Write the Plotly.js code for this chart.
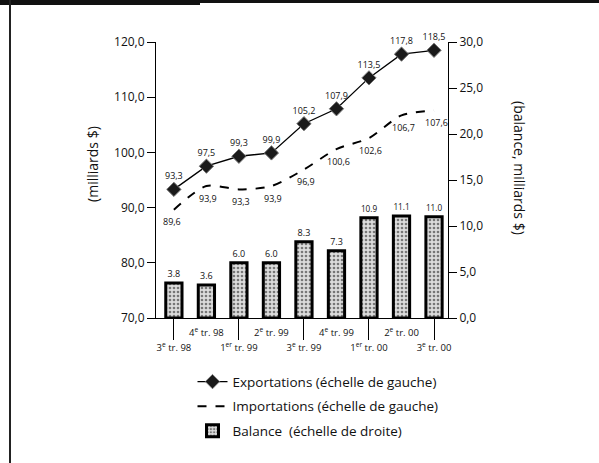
<!DOCTYPE html>
<html>
<head>
<meta charset="utf-8">
<script src="https://cdn.plot.ly/plotly-3.0.1.min.js"></script>
<style>
  html, body { margin: 0; padding: 0; background: #fff; }
  #wrap { position: relative; width: 599px; height: 463px; overflow: hidden; }
  #chart { position: absolute; left: 0; top: 0; width: 599px; height: 463px; }
  .frame-top { position: absolute; left: 0; top: 0; width: 599px; height: 3px; background: #111; }
  .frame-top2 { position: absolute; left: 0; top: 0; width: 200px; height: 5px; background: #111; }
  .frame-left { position: absolute; left: 9px; top: 0; width: 2px; height: 463px; background: #222; }
</style>
</head>
<body>
<div id="wrap">
  <div id="chart"></div>
  <div class="frame-top"></div>
  <div class="frame-top2"></div>
  <div class="frame-left"></div>
</div>
<script>
// ---- Data ----
const quarters = ["3T98", "4T98", "1T99", "2T99", "3T99", "4T99", "1T00", "2T00", "3T00"];
const quarterLabels = [
  "3<sup>e</sup> tr. 98", "4<sup>e</sup> tr. 98", "1<sup>er</sup> tr. 99",
  "2<sup>e</sup> tr. 99", "3<sup>e</sup> tr. 99", "4<sup>e</sup> tr. 99",
  "1<sup>er</sup> tr. 00", "2<sup>e</sup> tr. 00", "3<sup>e</sup> tr. 00"
];
const exportations = [93.3, 97.5, 99.3, 99.9, 105.2, 107.9, 113.5, 117.8, 118.5];
const importations = [89.6, 93.9, 93.3, 93.9, 96.9, 100.6, 102.6, 106.7, 107.6];
const balance = [3.8, 3.6, 6.0, 6.0, 8.3, 7.3, 10.9, 11.1, 11.0];

const FONT = "Open Sans, DejaVu Sans, sans-serif";
const comma = v => v.toFixed(1).replace(".", ",");

// two-row alternating tick labels: odd quarters on the upper row, even quarters on the lower row
const indices = quarters.map((q, i) => i);
const evenIdx = indices.filter(i => i % 2 === 0);
const oddIdx = indices.filter(i => i % 2 === 1);

const traces = [
  {
    type: "bar",
    name: "Balance  (échelle de droite)",
    x: quarters,
    y: balance,
    yaxis: "y2",
    width: 0.5,
    marker: {
      color: "#d0d0d0",
      line: { color: "#000", width: 3 },
      pattern: { shape: ".", fgcolor: "#777", bgcolor: "#dcdcdc", size: 4, solidity: 0.35 }
    },
    text: balance.map(v => v.toFixed(1)),
    textposition: "outside",
    textfont: { family: FONT, size: 9, color: "#111" },
    cliponaxis: false,
    legendrank: 3,
    legendgroup: "g3",
    hoverinfo: "skip"
  },
  {
    type: "scatter",
    mode: "lines+markers+text",
    name: "Exportations (échelle de gauche)",
    x: quarters,
    y: exportations,
    line: { color: "#000", width: 1.3 },
    marker: { symbol: "diamond", size: 11, color: "#1a1a1a", line: { color: "#777", width: 1 } },
    text: exportations.map(comma),
    textposition: "top center",
    textfont: { family: FONT, size: 9, color: "#111" },
    cliponaxis: false,
    legendrank: 1,
    legendgroup: "g1",
    hoverinfo: "skip"
  },
  {
    type: "scatter",
    mode: "lines",
    name: "Importations (échelle de gauche)",
    x: quarters,
    y: importations,
    line: { color: "#000", width: 2, dash: "dash", shape: "spline", smoothing: 0.8 },
    cliponaxis: false,
    legendrank: 2,
    legendgroup: "g2",
    hoverinfo: "skip"
  },
  {
    // invisible helper trace that carries the lower-row / separator-tick axis
    type: "scatter",
    mode: "markers",
    x: indices,
    y: exportations,
    xaxis: "x2",
    marker: { opacity: 0 },
    showlegend: false,
    hoverinfo: "skip"
  }
];

// import labels sit a little below the dashed line
const importAnnotations = importations.map((v, i) => ({
  x: quarters[i],
  y: v,
  xref: "x",
  yref: "y",
  text: comma(v),
  showarrow: false,
  yshift: -12,
  xshift: i === 0 ? -2 : 2,
  font: { family: FONT, size: 9, color: "#111" }
}));

const layout = {
  width: 599,
  height: 463,
  margin: { l: 156, r: 151, t: 42, b: 145 },
  paper_bgcolor: "#fff",
  plot_bgcolor: "rgba(0,0,0,0)",
  separators: ", ",
  font: { family: FONT, size: 12, color: "#111" },
  showlegend: true,
  xaxis: {
    type: "category",
    range: [-0.55, 8.43],
    tickvals: oddIdx.map(i => quarters[i]),
    ticktext: oddIdx.map(i => quarterLabels[i]),
    tickangle: 0,
    ticks: "outside",
    ticklen: 6,
    tickcolor: "rgba(0,0,0,0)",
    tickfont: { family: FONT, size: 9.5, color: "#111" },
    showline: true,
    linecolor: "#000",
    linewidth: 1,
    showgrid: false,
    zeroline: false,
    fixedrange: true
  },
  xaxis2: {
    overlaying: "x",
    type: "linear",
    range: [-0.55, 8.43],
    tickvals: evenIdx,
    ticktext: evenIdx.map(i => quarterLabels[i]),
    tickangle: 0,
    tickfont: { family: FONT, size: 9.5, color: "#111" },
    ticks: "outside",
    ticklen: 21,
    tickwidth: 1,
    tickcolor: "#000",
    showline: false,
    showgrid: false,
    zeroline: false,
    anchor: "y",
    side: "bottom"
  },
  yaxis: {
    range: [70, 120],
    dtick: 10,
    tick0: 70,
    tickformat: ".1f",
    ticks: "outside",
    ticklen: 8,
    tickcolor: "#000",
    showline: true,
    linecolor: "#000",
    linewidth: 1,
    showgrid: false,
    zeroline: false,
    tickfont: { family: FONT, size: 12, color: "#111" }
  },
  yaxis2: {
    overlaying: "y",
    side: "right",
    range: [0, 30],
    dtick: 5,
    tick0: 0,
    tickformat: ".1f",
    ticks: "outside",
    ticklen: 8,
    tickcolor: "#000",
    showline: true,
    linecolor: "#000",
    linewidth: 1,
    showgrid: false,
    zeroline: false,
    tickfont: { family: FONT, size: 12, color: "#111" }
  },
  legend: {
    x: 0.125,
    xanchor: "left",
    y: -0.175,
    yanchor: "top",
    tracegroupgap: 4,
    font: { family: FONT, size: 13.5, color: "#111" },
    bgcolor: "rgba(0,0,0,0)",
    borderwidth: 0
  },
  annotations: [
    {
      text: "(milliards $)",
      xref: "paper", yref: "paper",
      x: -0.216, y: 0.558,
      xanchor: "center", yanchor: "middle",
      textangle: -90,
      showarrow: false,
      font: { family: FONT, size: 14, color: "#111" }
    },
    {
      text: "(balance, milliards $)",
      xref: "paper", yref: "paper",
      x: 1.247, y: 0.543,
      xanchor: "center", yanchor: "middle",
      textangle: 90,
      showarrow: false,
      font: { family: FONT, size: 14, color: "#111" }
    }
  ].concat(importAnnotations)
};

Plotly.newPlot("chart", traces, layout, { staticPlot: true, displayModeBar: false });
</script>
</body>
</html>
